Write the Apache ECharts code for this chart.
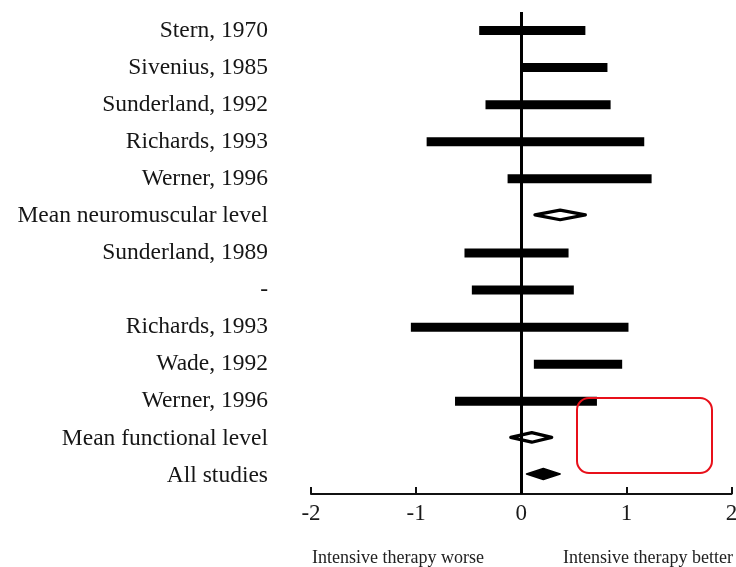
<!DOCTYPE html>
<html>
<head>
<meta charset="utf-8">
<script src="https://cdn.jsdelivr.net/npm/echarts@6/dist/echarts.min.js"></script>
<style>html,body{margin:0;padding:0;background:#fff}#c{width:736px;height:567px}</style>
</head>
<body>
<div id="c"></div>
<script>
const categories = ["Stern, 1970","Sivenius, 1985","Sunderland, 1992","Richards, 1993","Werner, 1996","Mean neuromuscular level","Sunderland, 1989","-","Richards, 1993","Wade, 1992","Werner, 1996","Mean functional level","All studies"];
const lowerCI = [-0.40, 0.01, -0.34, -0.90, -0.13, 0.13, -0.54, -0.47, -1.05, 0.12, -0.63, -0.10, 0.05];
const upperCI = [0.61, 0.82, 0.85, 1.17, 1.24, 0.61, 0.45, 0.50, 1.02, 0.96, 0.72, 0.29, 0.37];
const pointEstimate = [null, null, null, null, null, 0.37, null, null, null, null, null, 0.10, 0.21];
const rowKind = ["study","study","study","study","study","subtotal","study","study","study","study","study","subtotal","overall"];
const xTicks = [-2, -1, 0, 1, 2];

const data = categories.map((c, i) => [i, lowerCI[i], upperCI[i], pointEstimate[i] == null ? 0 : pointEstimate[i]]);
const FONT = "'Liberation Serif', 'DejaVu Serif', serif";

const chart = echarts.init(document.getElementById('c'));
chart.setOption({
  animation: false,
  backgroundColor: '#fff',
  grid: { left: 311, right: 4.5, top: 12, bottom: 73, outerBoundsMode: 'none', containLabel: false },
  xAxis: {
    type: 'value', min: xTicks[0], max: xTicks[xTicks.length - 1], interval: 1,
    splitLine: { show: false },
    axisLine: { show: true, onZero: false, lineStyle: { color: '#111', width: 2 } },
    axisTick: { show: true, inside: true, length: 7, lineStyle: { color: '#111', width: 2 } },
    axisLabel: { color: '#1a1a1a', fontFamily: FONT, fontSize: 23, margin: 8, hideOverlap: false }
  },
  yAxis: {
    type: 'category', data: categories, inverse: true,
    axisLine: { show: false }, axisTick: { show: false }, splitLine: { show: false },
    axisLabel: { color: '#161616', fontFamily: FONT, fontSize: 23.5, margin: 43 }
  },
  series: [{
    type: 'custom',
    data: data,
    encode: { x: [1, 2], y: 0 },
    renderItem: function (params, api) {
      const i = api.value(0);
      const lo = api.coord([api.value(1), i]);
      const hi = api.coord([api.value(2), i]);
      const kind = rowKind[i];
      if (kind === 'study') {
        return { type: 'rect', shape: { x: lo[0], y: lo[1] - 4.5, width: hi[0] - lo[0], height: 9 }, style: { fill: '#000' } };
      }
      const mid = api.coord([api.value(3), i]);
      const h = kind === 'overall' ? 5.5 : 4.8;
      const cy = kind === 'overall' ? mid[1] - 1.5 : mid[1] - 1;
      return {
        type: 'polygon',
        shape: { points: [[lo[0], cy], [mid[0], cy - h], [hi[0], cy], [mid[0], cy + h]] },
        style: kind === 'overall' ? { fill: '#000', stroke: '#000', lineWidth: 1.5, lineJoin: 'round' } : { fill: '#fff', stroke: '#000', lineWidth: 3.2, lineJoin: 'round' }
      };
    },
    markLine: {
      silent: true, symbol: 'none', label: { show: false },
      lineStyle: { color: '#000', width: 3, type: 'solid' },
      data: [{ xAxis: 0 }]
    },
    z: 3
  }],
  graphic: [
    { type: 'text', left: 312, top: 549, style: { text: 'Intensive therapy worse', fill: '#222', font: "18px 'Liberation Serif', serif" } },
    { type: 'text', left: 563, top: 549, style: { text: 'Intensive therapy better', fill: '#222', font: "18px 'Liberation Serif', serif" } },
    { type: 'rect', shape: { x: 577, y: 398, width: 135, height: 75, r: 12 }, style: { fill: 'none', stroke: '#e8101a', lineWidth: 2 }, z: 10 }
  ]
});
</script>
</body>
</html>
